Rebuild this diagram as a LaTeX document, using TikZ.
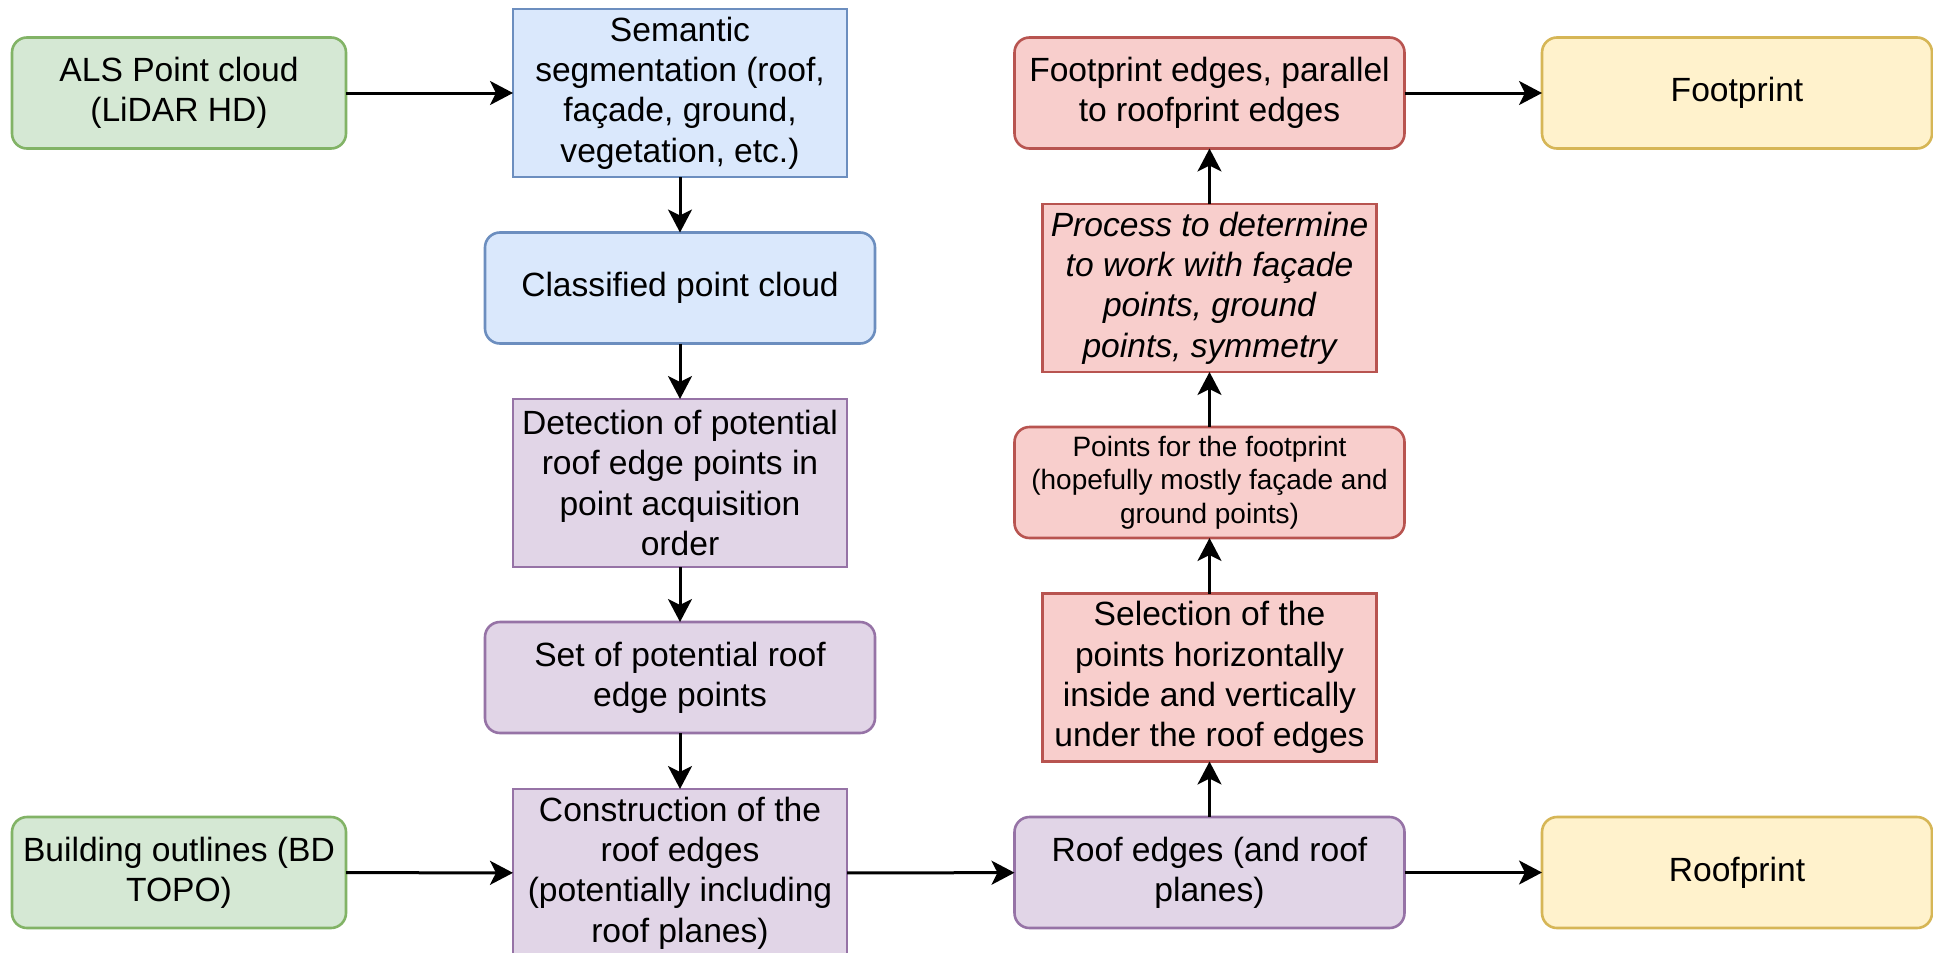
\documentclass[tikz,border=0pt]{standalone}
\usepackage{fontspec}
\setmainfont{Liberation Sans}
\usetikzlibrary{arrows.meta}
\definecolor{gfill}{HTML}{D5E8D4}\definecolor{gdraw}{HTML}{82B366}
\definecolor{bfill}{HTML}{DAE8FC}\definecolor{bdraw}{HTML}{6C8EBF}
\definecolor{pfill}{HTML}{E1D5E7}\definecolor{pdraw}{HTML}{9673A6}
\definecolor{rfill}{HTML}{F8CECC}\definecolor{rdraw}{HTML}{B85450}
\definecolor{yfill}{HTML}{FFF2CC}\definecolor{ydraw}{HTML}{D6B656}
\begin{document}
\begin{tikzpicture}[x=1pt,y=-1pt,
  box/.style={line width=2.6pt, inner sep=0pt, outer sep=0pt, align=center,
    font=\fontsize{33.6}{40.3}\selectfont},
  small/.style={font=\fontsize{28}{33.6}\selectfont},
  rbox/.style={box, rounded corners=15pt},
  sq/.style={box},
  wA/.style={minimum width=334pt},
  wB/.style={minimum width=390pt},
  hA/.style={minimum height=111pt},
  hB/.style={minimum height=168pt},
  green/.style={fill=gfill, draw=gdraw},
  blue/.style={fill=bfill, draw=bdraw},
  purple/.style={fill=pfill, draw=pdraw},
  red/.style={fill=rfill, draw=rdraw},
  yellow/.style={fill=yfill, draw=ydraw},
  arr/.style={-{Stealth[length=23pt,width=24pt,inset=6pt]}, line width=3pt}]
\useasboundingbox (0,0) rectangle (1933,953);
\fill[white] (0,0) rectangle (1933,953);

\node[rbox,green,wA,hA] (als) at (179,93) {ALS Point cloud\\(LiDAR HD)};
\node[sq,blue,wA,hB] (sem) at (680,93) {Semantic\\segmentation (roof,\\façade, ground,\\vegetation, etc.)};
\node[rbox,blue,wB,hA] (cls) at (680,288) {Classified point cloud};
\node[sq,purple,wA,hB] (det) at (680,483) {Detection of potential\\roof edge points in\\point acquisition\\order};
\node[rbox,purple,wB,hA] (set) at (680,677.5) {Set of potential roof\\edge points};
\node[sq,purple,wA,hB] (con) at (680,873) {Construction of the\\roof edges\\(potentially including\\roof planes)};
\node[rbox,green,wA,hA] (bd) at (179,872.5) {Building outlines (BD\\TOPO)};
\node[rbox,purple,wB,hA] (re) at (1209.5,872.5) {Roof edges (and roof\\planes)};
\node[rbox,yellow,wB,hA] (rp) at (1737,872.5) {Roofprint};
\node[sq,red,wA,hB] (sel) at (1209.5,677.5) {Selection of the\\points horizontally\\inside and vertically\\under the roof edges};
\node[rbox,red,wB,hA,small] (pts) at (1209.5,482.5) {Points for the footprint\\(hopefully mostly façade and\\ground points)};
\node[sq,red,wA,hB] (pro) at (1209.5,288) {\itshape Process to determine\\\itshape to work with façade\\\itshape points, ground\\\itshape points, symmetry};
\node[rbox,red,wB,hA] (fe) at (1209.5,93) {Footprint edges, parallel\\to roofprint edges};
\node[rbox,yellow,wB,hA] (fp) at (1737,93) {Footprint};

\draw[arr] (als) -- (sem);
\draw[arr] (sem) -- (cls);
\draw[arr] (cls) -- (det);
\draw[arr] (det) -- (set);
\draw[arr] (set) -- (con);
\draw[arr] (bd) -- (con);
\draw[arr] (con) -- (re);
\draw[arr] (re) -- (rp);
\draw[arr] (re) -- (sel);
\draw[arr] (sel) -- (pts);
\draw[arr] (pts) -- (pro);
\draw[arr] (pro) -- (fe);
\draw[arr] (fe) -- (fp);
\end{tikzpicture}
\end{document}
